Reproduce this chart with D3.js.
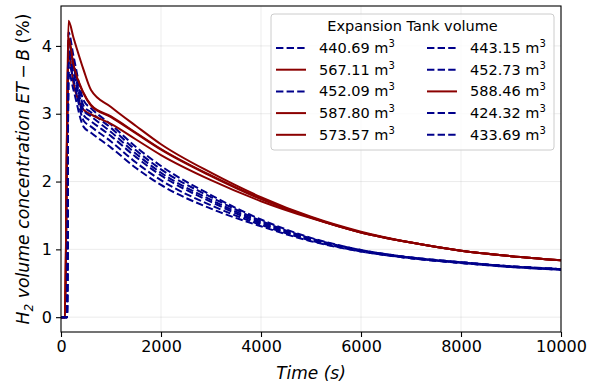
<!DOCTYPE html>
<html>
<head>
<meta charset="utf-8">
<script src="https://cdn.jsdelivr.net/npm/d3@7"></script>
<style>
  body { margin: 0; background: #fff; }
  svg { font-family: "DejaVu Sans", sans-serif; }
</style>
</head>
<body>
<div id="chart"></div>
<script>
// time samples (s), shared by every run
var timeS = [0, 80, 120, 150, 250, 450, 600, 1000, 1500, 2000, 3000, 4000, 5000, 6000, 7000, 8000, 9000, 10000];

// H2 concentration (%) for each expansion tank volume
var v440_69 = [0, 0, 0, 4.20, 3.85, 3.20, 3.08, 2.84, 2.51, 2.23, 1.80, 1.44, 1.17, 0.99, 0.88, 0.81, 0.75, 0.71];
var v567_11 = [0, 0, 2.6, 4.10, 3.70, 3.30, 3.12, 2.95, 2.71, 2.47, 2.08, 1.74, 1.47, 1.25, 1.10, 0.98, 0.90, 0.84];
var v452_09 = [0, 0, 0, 4.05, 3.75, 3.12, 3.02, 2.79, 2.46, 2.18, 1.77, 1.42, 1.16, 0.99, 0.88, 0.81, 0.75, 0.71];
var v587_80 = [0, 0, 2.8, 4.37, 4.12, 3.65, 3.35, 3.10, 2.82, 2.55, 2.13, 1.77, 1.48, 1.26, 1.10, 0.98, 0.90, 0.84];
var v573_57 = [0, 0, 2.5, 3.90, 3.45, 3.06, 2.99, 2.85, 2.62, 2.39, 2.02, 1.71, 1.46, 1.25, 1.10, 0.98, 0.90, 0.84];
var v443_15 = [0, 0, 0, 3.95, 3.70, 3.05, 2.96, 2.73, 2.41, 2.13, 1.73, 1.40, 1.15, 0.98, 0.88, 0.81, 0.75, 0.71];
var v452_73 = [0, 0, 0, 3.85, 3.60, 2.98, 2.89, 2.67, 2.36, 2.09, 1.70, 1.38, 1.14, 0.98, 0.87, 0.80, 0.75, 0.70];
var v588_46 = [0, 0, 2.7, 4.12, 3.72, 3.31, 3.13, 2.96, 2.72, 2.48, 2.09, 1.75, 1.47, 1.25, 1.10, 0.98, 0.90, 0.84];
var v424_32 = [0, 0, 0, 3.75, 3.50, 2.90, 2.81, 2.59, 2.28, 2.02, 1.65, 1.36, 1.13, 0.97, 0.87, 0.80, 0.74, 0.70];
var v433_69 = [0, 0, 0, 3.62, 3.35, 2.81, 2.72, 2.50, 2.20, 1.95, 1.60, 1.34, 1.12, 0.97, 0.87, 0.80, 0.74, 0.70];

// legend order (column by column) and drawing order
var volumes = ["440.69", "567.11", "452.09", "587.80", "573.57", "443.15", "452.73", "588.46", "424.32", "433.69"];
var kinds   = ["blue", "red", "blue", "red", "red", "blue", "blue", "red", "blue", "blue"];
var values  = [v440_69, v567_11, v452_09, v587_80, v573_57, v443_15, v452_73, v588_46, v424_32, v433_69];

var xTicks = [0, 2000, 4000, 6000, 8000, 10000];
var yTicks = [0, 1, 2, 3, 4];

var colors = { blue: "#00008b", red: "#8b0000" };

// set the dimensions and margins of the graph
var W = 601, H = 387;
var margin = {top: 6, right: 40, bottom: 55, left: 61},
    width = W - margin.left - margin.right,
    height = H - margin.top - margin.bottom;

var svg = d3.select("#chart").append("svg")
    .attr("width", W)
    .attr("height", H);

var g = svg.append("g")
    .attr("transform", "translate(" + margin.left + "," + margin.top + ")");

var x = d3.scaleLinear().domain([0, 10000]).range([0, width]);
var yMax = d3.max(values, function(v) { return d3.max(v); });
var pad = yMax * 0.05;
var y = d3.scaleLinear().domain([-pad, yMax + pad]).range([height, 0]);

// grid
g.append("g").selectAll("line").data(xTicks).join("line")
    .attr("x1", function(d) { return x(d); }).attr("x2", function(d) { return x(d); })
    .attr("y1", 0).attr("y2", height)
    .attr("stroke", "#b0b0b0").attr("stroke-opacity", 0.3).attr("stroke-width", 0.8);
g.append("g").selectAll("line").data(yTicks).join("line")
    .attr("y1", function(d) { return y(d); }).attr("y2", function(d) { return y(d); })
    .attr("x1", 0).attr("x2", width)
    .attr("stroke", "#b0b0b0").attr("stroke-opacity", 0.3).attr("stroke-width", 0.8);

// the lines
var line = d3.line()
    .x(function(d, i) { return x(timeS[i]); })
    .y(function(d) { return y(d); })
    .curve(d3.curveMonotoneX);

values.forEach(function(v, i) {
    g.append("path")
        .datum(v)
        .attr("fill", "none")
        .attr("stroke", colors[kinds[i]])
        .attr("stroke-width", 2)
        .attr("stroke-dasharray", kinds[i] == "blue" ? "7.4,3.2" : null)
        .attr("d", line);
});

// axes
var xAxis = g.append("g")
    .attr("transform", "translate(0," + height + ")")
    .call(d3.axisBottom(x).tickValues(xTicks).tickSize(5).tickPadding(4).tickFormat(d3.format("d")));
var yAxis = g.append("g")
    .call(d3.axisLeft(y).tickValues(yTicks).tickSize(5).tickPadding(4).tickFormat(d3.format("d")));
[xAxis, yAxis].forEach(function(a) {
    a.select(".domain").remove();
    a.selectAll("text").style("font-size", "16px").attr("fill", "#000").style("font-family", "DejaVu Sans");
    a.selectAll("line").attr("stroke", "#000").attr("stroke-width", 1.1);
});

// frame
g.append("rect")
    .attr("width", width).attr("height", height)
    .attr("fill", "none").attr("stroke", "#000").attr("stroke-width", 1.1);

// axis labels
svg.append("text")
    .attr("x", margin.left + width / 2)
    .attr("y", 379)
    .attr("text-anchor", "middle")
    .style("font-size", "17px")
    .style("font-style", "italic")
    .text("Time (s)");

var yl = svg.append("text")
    .attr("transform", "translate(29," + (margin.top + height / 2) + ") rotate(-90)")
    .attr("text-anchor", "middle")
    .style("font-size", "17.3px");
yl.append("tspan").style("font-style", "italic").text("H");
yl.append("tspan").attr("dy", 4).style("font-size", "12px").style("font-style", "italic").text("2");
yl.append("tspan").attr("dy", -4).style("font-style", "italic").text(" volume concentration ET\u2009\u2212\u2009B");
yl.append("tspan").text(" (%)");

// legend
var lg = svg.append("g");
lg.append("rect")
    .attr("x", 271).attr("y", 14).attr("width", 283).attr("height", 136)
    .attr("rx", 3)
    .attr("fill", "#fff").attr("fill-opacity", 0.8)
    .attr("stroke", "#cccccc").attr("stroke-width", 1);
lg.append("text")
    .attr("x", 412.5).attr("y", 31)
    .attr("text-anchor", "middle")
    .style("font-size", "14.5px")
    .text("Expansion Tank volume");

volumes.forEach(function(vol, i) {
    var col = Math.floor(i / 5), row = i % 5;
    var lx = 276 + col * 151, ly = 48 + row * 21.7;
    lg.append("line")
        .attr("x1", lx).attr("x2", lx + 30)
        .attr("y1", ly).attr("y2", ly)
        .attr("stroke", colors[kinds[i]])
        .attr("stroke-width", 2)
        .attr("stroke-dasharray", kinds[i] == "blue" ? "7.4,3.2" : null);
    var t = lg.append("text")
        .attr("x", lx + 43).attr("y", ly + 5)
        .style("font-size", "14.5px");
    t.append("tspan").text(vol + " m");
    t.append("tspan").attr("dy", -6).style("font-size", "10px").text("3");
});
</script>
</body>
</html>
